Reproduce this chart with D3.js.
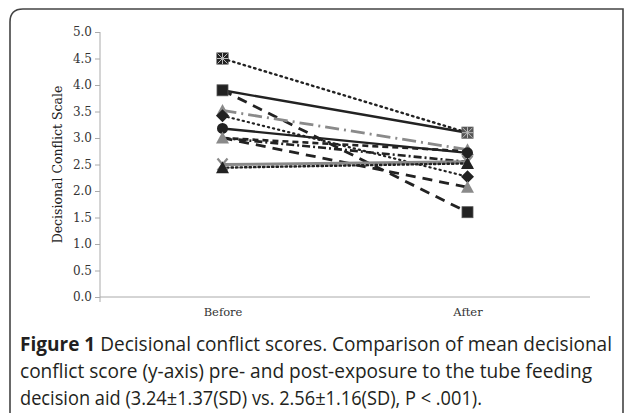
<!DOCTYPE html>
<html><head><meta charset="utf-8">
<script src="https://cdn.jsdelivr.net/npm/d3@7"></script>
<style>body{margin:0;background:#fff}svg{display:block}</style>
</head><body>
<svg id="c" width="627" height="413"></svg>
<script>
const categories = ["Before", "After"];
const yTicks = [0, 0.5, 1, 1.5, 2, 2.5, 3, 3.5, 4, 4.5, 5];
const seriesNames = ["s1","s2","s3","s4","s5","s6","s7","s8","s9","s10","s11"];
const beforeValues = [4.5, 3.9, 3.9, 3.52, 3.42, 3.18, 3.0, 3.0, 3.0, 2.5, 2.44];
const afterValues  = [3.1, 1.6, 3.1, 2.78, 2.27, 2.72, 2.07, 2.55, 2.75, 2.55, 2.52];
const markerTypes  = ["asterisk","square","none","triangle","diamond","circle","triangle","none","none","x","triangle"];
const markerColors = ["#222","#222","#222","#8a8a8a","#222","#222","#8a8a8a","#222","#222","#8a8a8a","#222"];
const lineColors   = ["#222","#222","#222","#8a8a8a","#222","#222","#222","#222","#222","#8a8a8a","#222"];
const lineDashes   = ["1.5,4","10,7","none","14,5,2,5","1.2,4","none","10,7","8,3,2,3","6,4","none","1.5,3"];
const lineWidths   = [2.4,2.8,2.4,2.8,2.2,2.4,2.8,2.6,2.6,3,2.4];
const caption = [
  [{t:"Figure 1", b:true},{t:" Decisional conflict scores. Comparison of mean decisional", b:false}],
  [{t:"conflict score (y-axis) pre- and post-exposure to the tube feeding", b:false}],
  [{t:"decision aid (3.24\u00b11.37(SD) vs. 2.56\u00b11.16(SD), P < .001).", b:false}]
];

(function(){
const svg = d3.select("#c");
svg.append("path")
  .attr("d", "M10,413 L10,22 Q10,9 23,9 L623,9 L623,413")
  .attr("fill","none").attr("stroke","#444").attr("stroke-width",1.6);

const pl = 100, pr = 590, pt = 32, pb = 297;
const y = d3.scaleLinear().domain([0,5]).range([pb, pt]);
const x = d3.scalePoint().domain(categories).range([pl, pr]).padding(0.5);

const serif = "'DejaVu Serif', 'Liberation Serif', serif";
const ya = svg.append("g").attr("transform",`translate(${pl},0)`)
  .call(d3.axisLeft(y).tickValues(yTicks).tickFormat(d3.format(".1f")).tickSize(5).tickPadding(3));
ya.select(".domain").attr("stroke","#aaa").attr("d",`M0,${pt}V${pb}`);
ya.selectAll(".tick line").attr("stroke","#aaa");
ya.selectAll(".tick text").attr("font-family",serif).attr("font-size",12).attr("fill","#333");
const xa = svg.append("g").attr("transform",`translate(0,${pb})`)
  .call(d3.axisBottom(x).tickSize(0).tickPadding(11));
xa.select(".domain").attr("stroke","#aaa").attr("d",`M${pl},0H${pr}`);
xa.selectAll(".tick text").attr("font-family",serif).attr("font-size",11.5).attr("fill","#333");
xa.append("line").attr("x1",pl).attr("x2",pl).attr("y1",0).attr("y2",5).attr("stroke","#aaa");
svg.append("text").attr("transform",`translate(62,${(pt+pb)/2}) rotate(-90)`)
  .attr("text-anchor","middle").attr("font-family",serif).attr("font-size",12.5).attr("fill","#222")
  .text("Decisional Conflict Scale");

const g = svg.append("g");
seriesNames.forEach((s,i)=>{
  const vals = [beforeValues[i], afterValues[i]];
  g.append("path")
    .datum(vals)
    .attr("d", d3.line().x((d,j)=>x(categories[j])).y(d=>y(d)))
    .attr("fill","none").attr("stroke",lineColors[i]).attr("stroke-width",lineWidths[i])
    .attr("stroke-dasharray", lineDashes[i]==="none"?null:lineDashes[i])
    .attr("stroke-linecap", lineDashes[i].startsWith("1.")?"round":"butt");
});
seriesNames.forEach((s,i)=>{
  const t = markerTypes[i]; if (t==="none") return;
  [beforeValues[i], afterValues[i]].forEach((v,j)=>{
    const px = x(categories[j]), py = y(v), col = markerColors[i];
    const m = g.append("g").attr("transform",`translate(${px},${py})`);
    if (t==="square") m.append("rect").attr("x",-5.5).attr("y",-5.5).attr("width",11).attr("height",11).attr("fill",col).attr("stroke","#555").attr("stroke-width",0.8);
    if (t==="circle") m.append("circle").attr("r",5.5).attr("fill",col);
    if (t==="diamond") m.append("path").attr("d","M0,-6.5L6.5,0L0,6.5L-6.5,0Z").attr("fill",col);
    if (t==="triangle") m.append("path").attr("d","M0,-6.5L6.5,5.5L-6.5,5.5Z").attr("fill",col);
    if (t==="x") m.append("path").attr("d","M-5,-6L5,6M5,-6L-5,6").attr("stroke",col).attr("stroke-width",2.2);
    if (t==="asterisk") {
      m.append("rect").attr("x",-6).attr("y",-6).attr("width",12).attr("height",12).attr("fill", j===0?"#222":"#555");
      m.append("path").attr("d","M-5,-5L5,5M5,-5L-5,5M0,-5.5V5.5M-5.5,0H5.5").attr("stroke","#bbb").attr("stroke-width",1);
    }
  });
});

const capFont = "'Open Sans', 'Noto Sans', sans-serif";
const capY = [351, 378, 405];
caption.forEach((line,i)=>{
  const t = svg.append("text").attr("x",20).attr("y",capY[i]).attr("font-family",capFont)
    .attr("font-size",19.5).attr("fill","#231f20");
  line.forEach(seg=>t.append("tspan").attr("font-weight",seg.b?"700":"400").text(seg.t));
  const targetW = [592, 572, 462][i];
  t.attr("textLength", targetW).attr("lengthAdjust","spacingAndGlyphs");
});
})();
</script>
</body></html>
